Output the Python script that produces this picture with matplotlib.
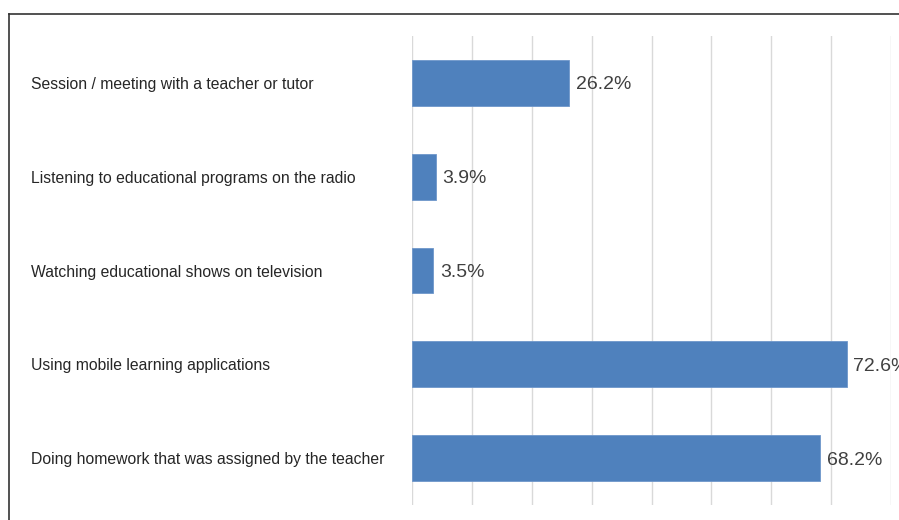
import matplotlib.pyplot as plt
from matplotlib.lines import Line2D
from matplotlib.transforms import blended_transform_factory

plt.rcParams['font.family'] = ['Liberation Sans', 'DejaVu Sans']

# Activities (top to bottom) and share of respondents
activities = [
    "Session / meeting with a teacher or tutor",
    "Listening to educational programs on the radio",
    "Watching educational shows on television",
    "Using mobile learning applications",
    "Doing homework that was assigned by the teacher",
]
shares = [26.2, 3.9, 3.5, 72.6, 68.2]

fig = plt.figure(figsize=(8.99, 5.2), dpi=100)
ax = fig.add_axes([0.4586, 0.0288, 0.5325, 0.902])

ypos = list(range(len(activities)))
ax.barh(ypos, shares, height=0.49, color="#4F81BD", edgecolor="#6E97CB", linewidth=0.6, zorder=3)

ax.set_xlim(0, 80)
ax.set_ylim(len(activities) - 0.5, -0.5)
ax.set_xticks(range(0, 81, 10))
ax.grid(axis="x", color="#D9D9D9", linewidth=1.0, zorder=0)
ax.tick_params(axis="x", length=0, labelbottom=False)
ax.tick_params(axis="y", length=0)
ax.set_yticks([])
for side in ax.spines.values():
    side.set_visible(False)

# category labels, left aligned near the frame
trans = blended_transform_factory(fig.transFigure, ax.transData)
for y, name in zip(ypos, activities):
    ax.text(31 / 899, y, name, transform=trans, ha="left", va="center_baseline",
            fontsize=11.3, color="#262626", clip_on=False)

# value labels (the 72.6% one runs past the right edge)
for y, v in zip(ypos, shares):
    ax.text(v + 1.1, y, f"{v}%", ha="left", va="center_baseline", fontsize=14,
            color="#404040", clip_on=False, zorder=4)

# outer frame (left and top edges)
fig.add_artist(Line2D([8.5 / 899, 8.5 / 899], [0, 1 - 13.5 / 520],
                      transform=fig.transFigure, color="#333333", linewidth=1.2))
fig.add_artist(Line2D([8.5 / 899, 1], [1 - 13.5 / 520, 1 - 13.5 / 520],
                      transform=fig.transFigure, color="#333333", linewidth=1.2))

fig.savefig("out.png", dpi=100)
